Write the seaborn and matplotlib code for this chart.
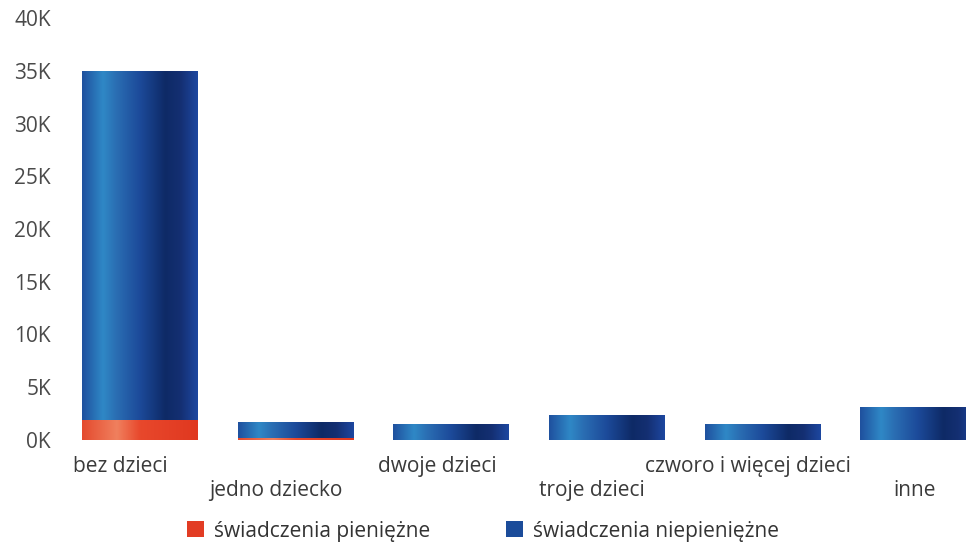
import numpy as np
import pandas as pd
import matplotlib
matplotlib.use("Agg")
import matplotlib.pyplot as plt
from matplotlib.colors import LinearSegmentedColormap
from matplotlib.patches import Patch
from matplotlib.transforms import ScaledTranslation
import seaborn as sns

categories = ["bez dzieci", "jedno dziecko", "dwoje dzieci", "troje dzieci",
              "czworo i więcej dzieci", "inne"]
pieniezne = [1850, 200, 0, 0, 0, 0]
niepieniezne = [33150, 1500, 1500, 2400, 1500, 3100]
series_names = ["świadczenia pieniężne", "świadczenia niepieniężne"]
yticks = [0, 5000, 10000, 15000, 20000, 25000, 30000, 35000, 40000]

totals = [p + n for p, n in zip(pieniezne, niepieniezne)]
df_tot = pd.DataFrame({"kat": categories, "val": totals})
df_red = pd.DataFrame({"kat": categories, "val": pieniezne})

sns.set_theme(style="white")
plt.rcParams["font.family"] = ["Open Sans", "DejaVu Sans"]

fig = plt.figure(figsize=(9.66, 5.42), dpi=100)
ax = fig.add_axes([62 / 966, 102 / 542, 1 - 62 / 966, 422 / 542])

BLUE = "#1b4c9a"
RED = "#e23c24"
sns.barplot(data=df_tot, x="kat", y="val", color=BLUE, width=0.74,
            saturation=1, ax=ax, order=categories)
n_blue = len(ax.patches)
sns.barplot(data=df_red, x="kat", y="val", color=RED, width=0.74,
            saturation=1, ax=ax, order=categories)

blue_cmap = LinearSegmentedColormap.from_list("b", [
    (0.0, "#1f509e"), (0.18, "#2f88c6"), (0.3, "#2a6db2"), (0.5, "#1c4a9a"),
    (0.72, "#0e2a66"), (0.85, "#142f72"), (1.0, "#1d47a0")])
red_cmap = LinearSegmentedColormap.from_list("r", [
    (0.0, "#e44a2e"), (0.3, "#f0805e"), (0.5, "#e8482c"), (1.0, "#e03820")])
grad = np.linspace(0, 1, 256).reshape(1, -1)

for i, p in enumerate(list(ax.patches)):
    h = p.get_height()
    if h <= 0:
        continue
    x0, w = p.get_x(), p.get_width()
    cmap = blue_cmap if i < n_blue else red_cmap
    im = ax.imshow(grad, cmap=cmap, aspect="auto", extent=[x0, x0 + w, 0, h],
                   zorder=p.get_zorder() + 0.1 + (0.5 if i >= n_blue else 0),
                   interpolation="bicubic")
    im.set_clip_path(p)

ax.set_xlim(-0.5, 5.31)
ax.set_ylim(0, 40000)
ax.set_yticks(yticks)
ax.set_yticklabels([f"{v // 1000}K" for v in yticks])
ax.set_xlabel("")
ax.set_ylabel("")
for s in ax.spines.values():
    s.set_visible(False)
ax.tick_params(axis="y", length=0, pad=8, labelsize=15, labelcolor="#4a4a4a")
ax.tick_params(axis="x", length=0, labelsize=15, labelcolor="#3a3a3a")
for i, t in enumerate(ax.xaxis.get_major_ticks()):
    t.set_pad(11.5 if i % 2 == 0 else 28.5)

# horizontal nudges of category labels (pixels)
label_shift_px = [-19, -20, -14, -15, -14, -3]
for lab, dx in zip(ax.get_xticklabels(), label_shift_px):
    lab.set_transform(lab.get_transform() + ScaledTranslation(dx / 100, 0, fig.dpi_scale_trans))

handles = [Patch(facecolor=RED, edgecolor="none"),
           Patch(facecolor=BLUE, edgecolor="none")]
fig.legend(handles, series_names, loc="center", bbox_to_anchor=(0.5, 11 / 542),
           ncol=2, frameon=False, fontsize=15, handlelength=0.82, handleheight=0.82,
           handletextpad=0.5, columnspacing=3.6, labelcolor="#333333",
           borderpad=0.2)

fig.savefig("out.png", dpi=100)
